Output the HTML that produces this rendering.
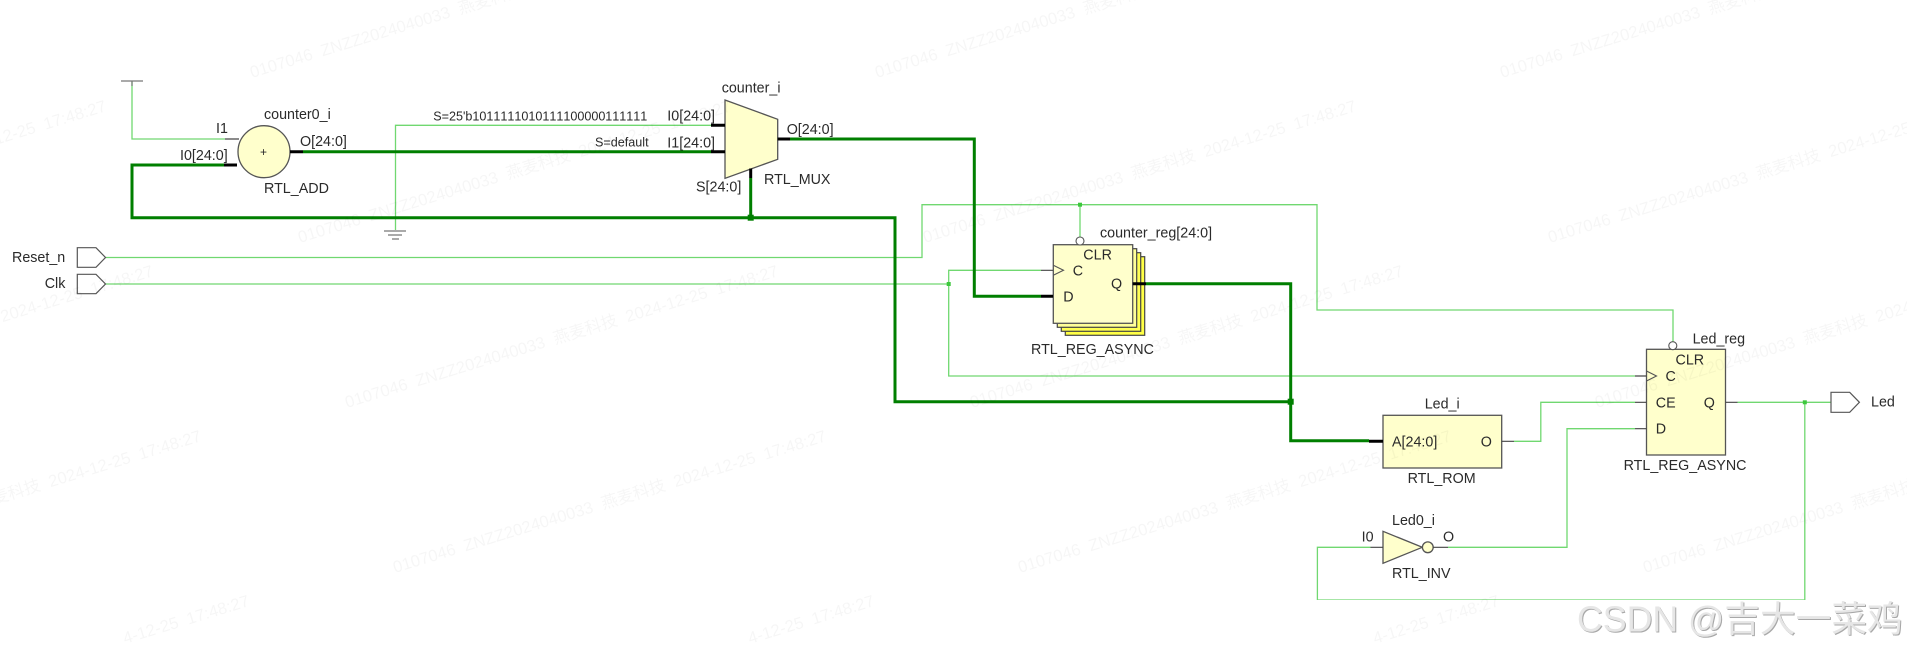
<!DOCTYPE html>
<html>
<head>
<meta charset="utf-8">
<style>
html,body{margin:0;padding:0;background:#fff;width:1907px;height:651px;overflow:hidden}
svg{display:block}
text{font-family:"Liberation Sans","Noto Sans CJK SC",sans-serif;fill:#2a2a2a;font-size:14.3px}
.s{font-size:12.6px;font-kerning:none}
.t{fill:none;stroke:#70d870;stroke-width:1.3}
.k{fill:none;stroke:#047f04;stroke-width:3}
.b{fill:none;stroke:#000;stroke-width:3}
.d{fill:none;stroke:#444;stroke-width:1.2}
.n{fill:#ffffcc;stroke:#555;stroke-width:1.3}
.w text{fill:#000;fill-opacity:.035;font-size:16.6px;white-space:pre}
</style>
</head>
<body>
<svg width="1907" height="651" viewBox="0 0 1907 651" xmlns="http://www.w3.org/2000/svg">
<defs>
<filter id="f" x="0" y="0" width="100%" height="100%"><feGaussianBlur stdDeviation="0.35"/></filter>
</defs>
<rect width="1907" height="651" fill="#fff"/>
<g filter="url(#f)">
<!-- thin wires -->
<path class="t" d="M132 81V139H225"/>
<path class="t" d="M395.5 230V125.3H711"/>
<path class="t" d="M105.5 257.5H922V204.7H1317V310H1673V342"/>
<path class="t" d="M1080 204.7V237"/>
<path class="t" d="M105.5 284H948.7"/>
<path class="t" d="M1041 270.3H948.7V376H1635"/>
<path class="t" d="M1514 441.3H1540.8V402.3H1635"/>
<path class="t" d="M1448 547.3H1567V428.7H1635"/>
<path class="t" d="M1737.5 402.3H1831"/>
<path class="t" d="M1804.8 402.3V600H1317.4V547.3H1370.5"/>
<!-- thick wires -->
<path class="k" d="M224 165H132V217.7H895V401.7H1290.7"/>
<path class="k" d="M303 151.7H711"/>
<path class="k" d="M790 139H974.3V296.3H1041"/>
<path class="k" d="M750.7 178V217.7"/>
<path class="k" d="M1146 283.7H1290.7V440.7H1369"/>
<!-- dots -->
<rect x="747.7" y="214.7" width="6" height="6" fill="#047f04"/>
<rect x="1287.7" y="398.7" width="6" height="6" fill="#047f04"/>
<rect x="1078" y="202.7" width="4" height="4" fill="#3cc83c"/>
<rect x="946.7" y="282" width="4" height="4" fill="#3cc83c"/>
<rect x="1802.8" y="400.3" width="4" height="4" fill="#3cc83c"/>
<!-- power / ground -->
<path d="M121 81H143M132 81V86" fill="none" stroke="#777" stroke-width="1.2"/>
<path d="M384 231H406M388 235H402M392 239H399" fill="none" stroke="#555" stroke-width="1.1"/>
<!-- adder -->
<circle cx="264" cy="151.7" r="26" class="n" stroke-width="1.1"/>
<text x="260" y="156" style="font-size:12px">+</text>
<!-- mux -->
<polygon points="725,100 777.7,119.3 777.7,159.3 725,178.3" class="n"/>
<!-- ports -->
<polygon points="77.3,247.7 96,247.7 105.5,257.5 96,267.3 77.3,267.3" fill="#fff" stroke="#555" stroke-width="1.2"/>
<polygon points="77.3,274.3 96,274.3 105.5,284 96,293.7 77.3,293.7" fill="#fff" stroke="#555" stroke-width="1.2"/>
<polygon points="1831,392.3 1849.7,392.3 1859.4,402.3 1849.7,412.3 1831,412.3" fill="#fff" stroke="#555" stroke-width="1.2"/>
<!-- counter_reg stack -->
<rect x="1065.3" y="256.7" width="79.4" height="78.6" fill="#ffff44" stroke="#444" stroke-width="1.2"/>
<rect x="1061.3" y="252.7" width="79.4" height="78.6" fill="#ffff55" stroke="#444" stroke-width="1.2"/>
<rect x="1057.3" y="248.7" width="79.4" height="78.6" fill="#ffff99" stroke="#444" stroke-width="1.2"/>
<rect x="1053.3" y="244.7" width="79.4" height="78.6" class="n"/>
<circle cx="1080" cy="241" r="4" fill="#fff" stroke="#555" stroke-width="1.1"/>
<path d="M1053.3 265.3L1063.5 270.3L1053.3 275.3" fill="none" stroke="#555" stroke-width="1.1"/>
<!-- Led_reg -->
<rect x="1646.5" y="349.3" width="79" height="105.7" class="n"/>
<circle cx="1672.8" cy="345.7" r="4" fill="#fff" stroke="#555" stroke-width="1.1"/>
<path d="M1646.5 371L1656.5 376L1646.5 381" fill="none" stroke="#555" stroke-width="1.1"/>
<!-- ROM -->
<rect x="1383" y="415.3" width="118.7" height="52.7" class="n"/>
<!-- INV -->
<polygon points="1383,531.3 1383,563.3 1422.3,547.3" class="n"/>
<circle cx="1427.8" cy="547.3" r="5.4" class="n" stroke-width="1.1"/>
<!-- black stubs -->
<path class="b" d="M224 165H237M290 151.7H303M711 125.3H725M711 151.7H725M777.7 139H790M750.7 168.5V178M1041 296.3H1053M1132.7 283.7H1146M1369 441.3H1383"/>
<path class="d" d="M225 139H239M1041 270.3H1053M1635 376H1646.5M1635 402.3H1646.5M1635 428.7H1646.5M1725.5 402.3H1737.5M1501.7 441.3H1514M1432.8 547.3H1448M1370.5 547.3H1383"/>
<!-- labels -->
<text x="216" y="133">I1</text>
<text x="264" y="119">counter0_i</text>
<text x="180" y="160">I0[24:0]</text>
<text x="300" y="146">O[24:0]</text>
<text x="264" y="193">RTL_ADD</text>
<text x="12" y="262">Reset_n</text>
<text x="44.7" y="288">Clk</text>
<text x="721.7" y="92.3">counter_i</text>
<text class="s" x="433.3" y="120.7" textLength="214">S=25'b1011111010111100000111111</text>
<text class="s" x="595" y="146.7">S=default</text>
<text x="667.3" y="120.7">I0[24:0]</text>
<text x="667.3" y="147.3">I1[24:0]</text>
<text x="786.7" y="134">O[24:0]</text>
<text x="696" y="191.7">S[24:0]</text>
<text x="764" y="184">RTL_MUX</text>
<text x="1100" y="237.7">counter_reg[24:0]</text>
<text x="1083.3" y="259.3">CLR</text>
<text x="1072.7" y="275.7">C</text>
<text x="1063.3" y="301.7">D</text>
<text x="1111" y="288.3">Q</text>
<text x="1031" y="354">RTL_REG_ASYNC</text>
<text x="1692.6" y="343.3">Led_reg</text>
<text x="1675.5" y="364.7">CLR</text>
<text x="1665.5" y="381">C</text>
<text x="1655.8" y="407.7">CE</text>
<text x="1655.8" y="433.7">D</text>
<text x="1703.8" y="407.7">Q</text>
<text x="1623.6" y="470">RTL_REG_ASYNC</text>
<text x="1871" y="406.7">Led</text>
<text x="1424.7" y="408.3">Led_i</text>
<text x="1392" y="446.7">A[24:0]</text>
<text x="1480.8" y="446.7">O</text>
<text x="1407.6" y="483">RTL_ROM</text>
<text x="1392" y="525">Led0_i</text>
<text x="1361.6" y="541.7">I0</text>
<text x="1443" y="541.7">O</text>
<text x="1392" y="578">RTL_INV</text>
</g>
<!-- watermarks -->
<g class="w">
<text transform="translate(204 -87) rotate(-17)" textLength="452" lengthAdjust="spacingAndGlyphs">0107046  ZNZZ2024040033  燕麦科技  2024-12-25  17:48:27</text>
<text transform="translate(829 -87) rotate(-17)" textLength="452" lengthAdjust="spacingAndGlyphs">0107046  ZNZZ2024040033  燕麦科技  2024-12-25  17:48:27</text>
<text transform="translate(1454 -87) rotate(-17)" textLength="452" lengthAdjust="spacingAndGlyphs">0107046  ZNZZ2024040033  燕麦科技  2024-12-25  17:48:27</text>
<text transform="translate(-373 78) rotate(-17)" textLength="452" lengthAdjust="spacingAndGlyphs">0107046  ZNZZ2024040033  燕麦科技  2024-12-25  17:48:27</text>
<text transform="translate(252 78) rotate(-17)" textLength="452" lengthAdjust="spacingAndGlyphs">0107046  ZNZZ2024040033  燕麦科技  2024-12-25  17:48:27</text>
<text transform="translate(877 78) rotate(-17)" textLength="452" lengthAdjust="spacingAndGlyphs">0107046  ZNZZ2024040033  燕麦科技  2024-12-25  17:48:27</text>
<text transform="translate(1502 78) rotate(-17)" textLength="452" lengthAdjust="spacingAndGlyphs">0107046  ZNZZ2024040033  燕麦科技  2024-12-25  17:48:27</text>
<text transform="translate(-325 243) rotate(-17)" textLength="452" lengthAdjust="spacingAndGlyphs">0107046  ZNZZ2024040033  燕麦科技  2024-12-25  17:48:27</text>
<text transform="translate(300 243) rotate(-17)" textLength="452" lengthAdjust="spacingAndGlyphs">0107046  ZNZZ2024040033  燕麦科技  2024-12-25  17:48:27</text>
<text transform="translate(925 243) rotate(-17)" textLength="452" lengthAdjust="spacingAndGlyphs">0107046  ZNZZ2024040033  燕麦科技  2024-12-25  17:48:27</text>
<text transform="translate(1550 243) rotate(-17)" textLength="452" lengthAdjust="spacingAndGlyphs">0107046  ZNZZ2024040033  燕麦科技  2024-12-25  17:48:27</text>
<text transform="translate(-278 408) rotate(-17)" textLength="452" lengthAdjust="spacingAndGlyphs">0107046  ZNZZ2024040033  燕麦科技  2024-12-25  17:48:27</text>
<text transform="translate(347 408) rotate(-17)" textLength="452" lengthAdjust="spacingAndGlyphs">0107046  ZNZZ2024040033  燕麦科技  2024-12-25  17:48:27</text>
<text transform="translate(972 408) rotate(-17)" textLength="452" lengthAdjust="spacingAndGlyphs">0107046  ZNZZ2024040033  燕麦科技  2024-12-25  17:48:27</text>
<text transform="translate(1597 408) rotate(-17)" textLength="452" lengthAdjust="spacingAndGlyphs">0107046  ZNZZ2024040033  燕麦科技  2024-12-25  17:48:27</text>
<text transform="translate(-230 573) rotate(-17)" textLength="452" lengthAdjust="spacingAndGlyphs">0107046  ZNZZ2024040033  燕麦科技  2024-12-25  17:48:27</text>
<text transform="translate(395 573) rotate(-17)" textLength="452" lengthAdjust="spacingAndGlyphs">0107046  ZNZZ2024040033  燕麦科技  2024-12-25  17:48:27</text>
<text transform="translate(1020 573) rotate(-17)" textLength="452" lengthAdjust="spacingAndGlyphs">0107046  ZNZZ2024040033  燕麦科技  2024-12-25  17:48:27</text>
<text transform="translate(1645 573) rotate(-17)" textLength="452" lengthAdjust="spacingAndGlyphs">0107046  ZNZZ2024040033  燕麦科技  2024-12-25  17:48:27</text>
<text transform="translate(125 644) rotate(-17)">4-12-25  17:48:27</text>
<text transform="translate(750 644) rotate(-17)">4-12-25  17:48:27</text>
<text transform="translate(1375 644) rotate(-17)">4-12-25  17:48:27</text>
</g>
<!-- CSDN mark -->
<text x="1578" y="632.5" style="font-size:35.7px;fill:#a8a8a8">CSDN @吉大一菜鸡</text>
<text x="1577" y="631.5" style="font-size:35.7px;fill:#e6e6e6">CSDN @吉大一菜鸡</text>
</svg>
</body>
</html>
